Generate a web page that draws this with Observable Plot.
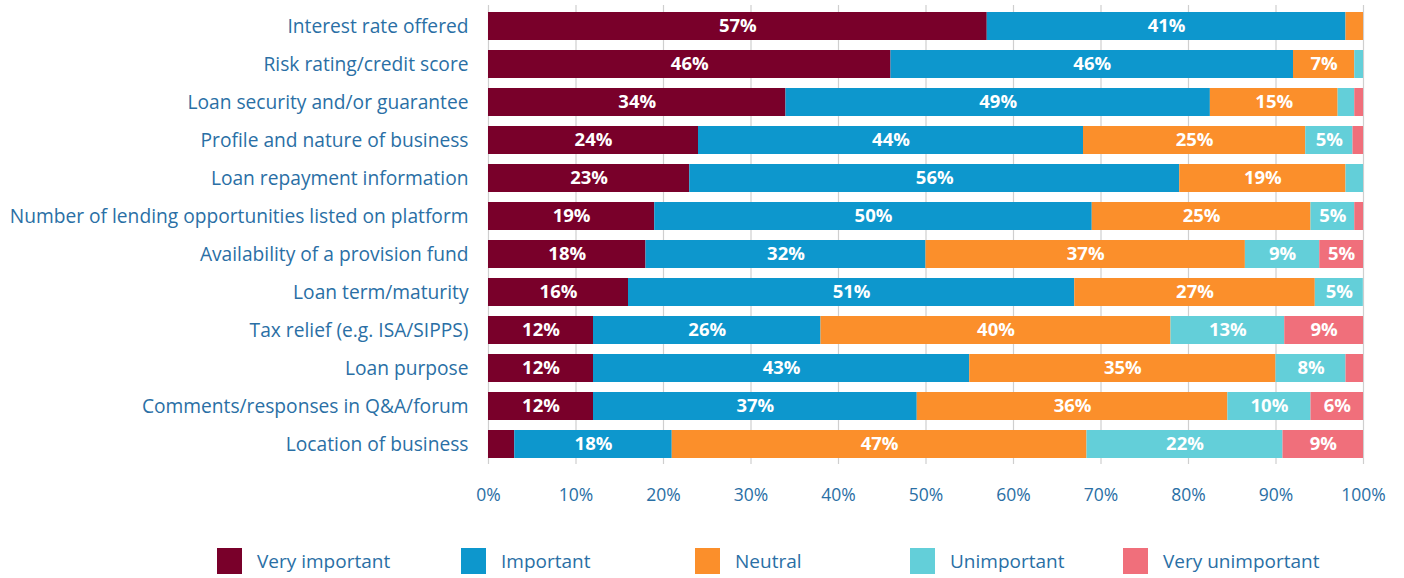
<!DOCTYPE html>
<html>
<head>
<meta charset="utf-8">
<script src="https://cdn.jsdelivr.net/npm/d3@7"></script>
<script src="https://cdn.jsdelivr.net/npm/@observablehq/plot@0.6"></script>
<style>
  body { margin: 0; background: #fff; font-family: "Open Sans", sans-serif; }
  #wrap { position: relative; width: 1404px; }
  #legend { position: relative; height: 64px; width: 1404px; }
  .item { position: absolute; top: 34px; display: flex; align-items: center; }
  .sw { width: 25px; height: 26px; margin-right: 15px; }
  .lab { font-size: 19px; color: #2a6fa5; }
</style>
</head>
<body>
<div id="wrap"></div>
<script>
const categories = [
  "Interest rate offered",
  "Risk rating/credit score",
  "Loan security and/or guarantee",
  "Profile and nature of business",
  "Loan repayment information",
  "Number of lending opportunities listed on platform",
  "Availability of a provision fund",
  "Loan term/maturity",
  "Tax relief (e.g. ISA/SIPPS)",
  "Loan purpose",
  "Comments/responses in Q&A/forum",
  "Location of business"
];
const seriesNames = ["Very important", "Important", "Neutral", "Unimportant", "Very unimportant"];
const seriesColors = ["#79002a", "#0d97cd", "#fb8f2b", "#63cfd9", "#f06f7b"];
const veryImportant   = [57, 46, 34,   24,   23, 19, 18,   16,    12, 12, 12,   3];
const important       = [41, 46, 48.5, 44,   56, 50, 32,   51,    26, 43, 37,   18];
const neutral         = [2,  7,  14.6, 25.4, 19, 25, 36.5, 27.49, 40, 35, 35.5, 47.4];
const unimportant     = [0,  1,  1.9,  5.4,  2,  5,  8.5,  5.49,  13, 8,  9.5,  22.4];
const veryUnimportant = [0,  0,  1,    1.2,  0,  1,  5,    0,     9,  2,  6,    9.2];
const xTicks = [0, 10, 20, 30, 40, 50, 60, 70, 80, 90, 100];

const seriesValues = [veryImportant, important, neutral, unimportant, veryUnimportant];
const data = [];
categories.forEach((c, i) => {
  seriesNames.forEach((s, j) => {
    data.push({category: c, series: s, value: seriesValues[j][i]});
  });
});

const textColor = "#2a6fa5";
const chart = Plot.plot({
  width: 1404,
  height: 514,
  marginLeft: 488,
  marginRight: 41,
  marginTop: 5,
  marginBottom: 50,
  style: {fontFamily: "Open Sans, sans-serif", background: "#fff"},
  x: {domain: [0, 100]},
  y: {domain: categories, paddingInner: 0.27, paddingOuter: 0.16},
  color: {domain: seriesNames, range: seriesColors},
  marks: [
    Plot.gridX(xTicks, {stroke: "#cfcfcf", strokeOpacity: 1, strokeWidth: 1.2}),
    Plot.barX(data, Plot.stackX({x: "value", y: "category", fill: "series", z: "series"})),
    Plot.text(data, Plot.stackX({
      x: "value", y: "category", z: "series",
      text: d => d.value >= 4.5 ? Math.round(d.value) + "%" : "",
      fill: "white", fontSize: 18.5, fontWeight: "bold"
    })),
    Plot.axisX({ticks: xTicks, tickFormat: d => d + "%", tickSize: 0, tickPadding: 24, fontSize: 17.5, fill: textColor, label: null}),
    Plot.axisY({tickSize: 0, tickPadding: 20, fontSize: 19.2, fill: textColor, label: null})
  ]
});
document.getElementById("wrap").appendChild(chart);

const legendX = [217, 461, 695, 910, 1123];
const legend = document.createElement("div");
legend.id = "legend";
seriesNames.forEach((s, j) => {
  const it = document.createElement("div");
  it.className = "item";
  it.style.left = legendX[j] + "px";
  it.innerHTML = `<div class="sw" style="background:${seriesColors[j]}"></div><span class="lab">${s}</span>`;
  legend.appendChild(it);
});
document.getElementById("wrap").appendChild(legend);
</script>
</body>
</html>
